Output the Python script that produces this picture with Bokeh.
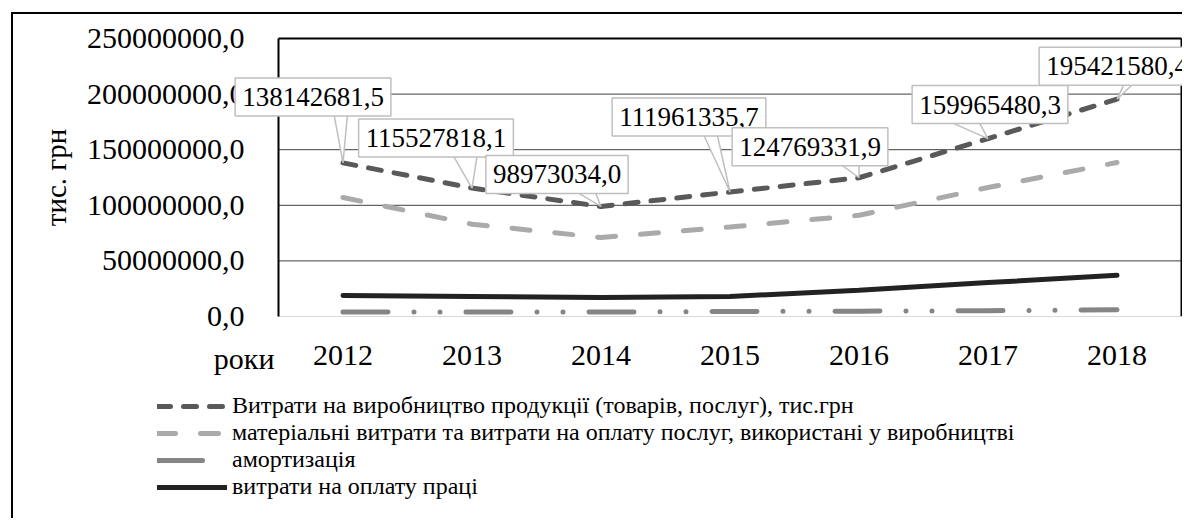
import json
from bokeh.plotting import figure
from bokeh.models import (Range1d, FixedTicker, Label, Legend, LegendItem,
                          ColumnDataSource, CustomJSTickFormatter)
from bokeh.embed import file_html
from bokeh.resources import INLINE

# ---------------- data ----------------
years = ["2012", "2013", "2014", "2015", "2016", "2017", "2018"]
production = [138142681.5, 115527818.1, 98973034.0, 111961335.7, 124769331.9, 159965480.3, 195421580.4]
material = [107.0e6, 83.0e6, 71.0e6, 80.5e6, 91.0e6, 116.0e6, 138.5e6]
amortization = [4.0e6, 4.1e6, 4.0e6, 4.5e6, 4.8e6, 5.2e6, 6.0e6]
labor = [18.9e6, 18.0e6, 17.0e6, 18.0e6, 23.5e6, 30.5e6, 37.0e6]
y_ticks = [0, 50e6, 100e6, 150e6, 200e6, 250e6]
series_names = [
    "Витрати на виробництво продукції (товарів, послуг), тис.грн",
    "матеріальні витрати та витрати на оплату послуг, використані у виробництві",
    "амортизація",
    "витрати на оплату праці",
]
y_title = "тис. грн"
x_title = "роки"

# ---------------- layout / style ----------------
OX, OY = 13, 14                 # canvas origin in the window
W, H = 1171, 506
PL, PR, PT, PB = 278, 1181, 38, 316   # plot area in window px
FONT = "Liberation Serif"
ncat = len(years)
px_per_cat = (PR - PL) / ncat
units_per_px = (y_ticks[-1] - y_ticks[0]) / (PB - PT)
x_start = -(PL - OX) / px_per_cat
x_end = ncat + (OX + W - PR) / px_per_cat
y_end = y_ticks[-1] + (PT - OY) * units_per_px
y_start = y_ticks[0] - (OY + H - PB) * units_per_px

# callout box centre offsets from point (screen px, dy positive = down)
call_dx = [-30, -36, -44, -41, -49, 2, 0]
call_dy = [-66, -50, -32, -75, -31, -34, -33]
# tail base x offsets (px from point)
tail_bx = [(-10, 5), (-22, 6), (-34, -8), (-29, -14), (-26, 0), (-50, -12), (10, 22)]

p = figure(x_range=Range1d(x_start, x_end), y_range=Range1d(y_start, y_end),
           width=W, height=H, output_backend="svg", toolbar_location=None,
           min_border_left=0, min_border_right=0, min_border_top=0, min_border_bottom=0,
           outline_line_color=None, background_fill_color="white", border_fill_color="white")
p.styles = {"border-left": "2px solid black", "border-top": "2px solid black",
            "position": "relative", "left": "%dpx" % (OX - 2), "top": "%dpx" % (OY - 2)}

xpos = [i + 0.5 for i in range(ncat)]
src = ColumnDataSource(dict(x=xpos, production=production, material=material,
                            amortization=amortization, labor=labor))

# gridlines
grid_ticks = y_ticks[1:-1]
p.segment(x0=[0] * len(grid_ticks), x1=[ncat] * len(grid_ticks), y0=grid_ticks, y1=grid_ticks,
          line_color="#404040", line_width=1)

r1 = p.line("x", "production", source=src, line_color="#595959", line_width=5,
            line_dash="13 13", line_cap="round")
r2 = p.line("x", "material", source=src, line_color="#aaaaaa", line_width=5,
            line_dash="18 25", line_cap="round")
r3 = p.line("x", "amortization", source=src, line_color="#858585", line_width=5,
            line_dash="45 26 0 26 0 26", line_cap="round")
r4 = p.line("x", "labor", source=src, line_color="#222222", line_width=5, line_cap="round")

# plot-area border (top and right)
p.segment(x0=[0, ncat], x1=[ncat, ncat], y0=[y_ticks[-1], y_ticks[0]], y1=[y_ticks[-1], y_ticks[-1]],
          line_color="black", line_width=2)

# callout tails
xs, ys = [], []
for i, v in enumerate(production):
    cx = xpos[i]
    base_dy = call_dy[i] + 12
    b1, b2 = tail_bx[i]
    xs.append([cx, cx + b1 / px_per_cat, cx + b2 / px_per_cat])
    ys.append([v, v - base_dy * units_per_px, v - base_dy * units_per_px])
p.patches(xs, ys, fill_color="white", line_color="#bfbfbf", line_width=1.5)

for i, v in enumerate(production):
    lab = Label(x=xpos[i], y=v, x_offset=call_dx[i], y_offset=-call_dy[i],
                text=f"{v:.1f}".replace(".", ","), text_align="center",
                text_baseline="middle", text_font=FONT, text_font_size="27px",
                text_color="black", background_fill_color="white",
                border_line_color="#bfbfbf", border_line_width=1.5, padding=8)
    try:
        lab.padding = (7, 10)
    except Exception:
        lab.padding = 9
    p.add_layout(lab)

# axes (drawn at the plot-area edges)
yax = p.yaxis[0]
yax.fixed_location = 0
yax.bounds = (y_ticks[0], y_ticks[-1])
yax.ticker = FixedTicker(ticks=y_ticks)
yax.formatter = CustomJSTickFormatter(code="return tick.toFixed(1).replace('.', ',');")
yax.axis_line_color = "black"
yax.axis_line_width = 2
yax.major_tick_line_color = None
yax.minor_tick_line_color = None
yax.major_label_standoff = 28
yax.major_label_text_font = FONT
yax.major_label_text_font_size = "30px"
yax.major_label_text_color = "black"
yax.axis_label = y_title
yax.axis_label_text_font = FONT
yax.axis_label_text_font_size = "29px"
yax.axis_label_text_font_style = "normal"
yax.axis_label_text_color = "black"
yax.axis_label_standoff = 12

xax = p.xaxis[0]
xax.fixed_location = 0
xax.bounds = (0, ncat)
xax.ticker = FixedTicker(ticks=xpos)
xax.formatter = CustomJSTickFormatter(
    code="const labels = %s; return labels[Math.round(tick - 0.5)] || '';" % json.dumps(years))
xax.axis_line_color = "#d9d9d9"
xax.axis_line_width = 1
xax.major_tick_line_color = None
xax.minor_tick_line_color = None
xax.major_label_standoff = 23
xax.major_label_text_font = FONT
xax.major_label_text_font_size = "30px"
xax.major_label_text_color = "black"

p.xgrid.visible = False
p.ygrid.visible = False

p.add_layout(Label(x=0, y=0, x_offset=-4, y_offset=-42, text=x_title, text_align="right",
                   text_baseline="middle", text_font=FONT, text_font_size="30px",
                   text_color="black"))

legend = Legend(items=[LegendItem(label=n, renderers=[r]) for n, r in
                       zip(series_names, [r1, r2, r3, r4])],
                location=(157 - OX, (OY + H) - 500), orientation="vertical",
                border_line_color=None, background_fill_alpha=0, padding=0, margin=0,
                spacing=0, glyph_width=70, glyph_height=26, label_height=26, label_standoff=5,
                label_text_font=FONT, label_text_font_size="24px",
                label_text_color="black")
p.add_layout(legend)

open("out.html", "w").write(file_html(p, INLINE))
